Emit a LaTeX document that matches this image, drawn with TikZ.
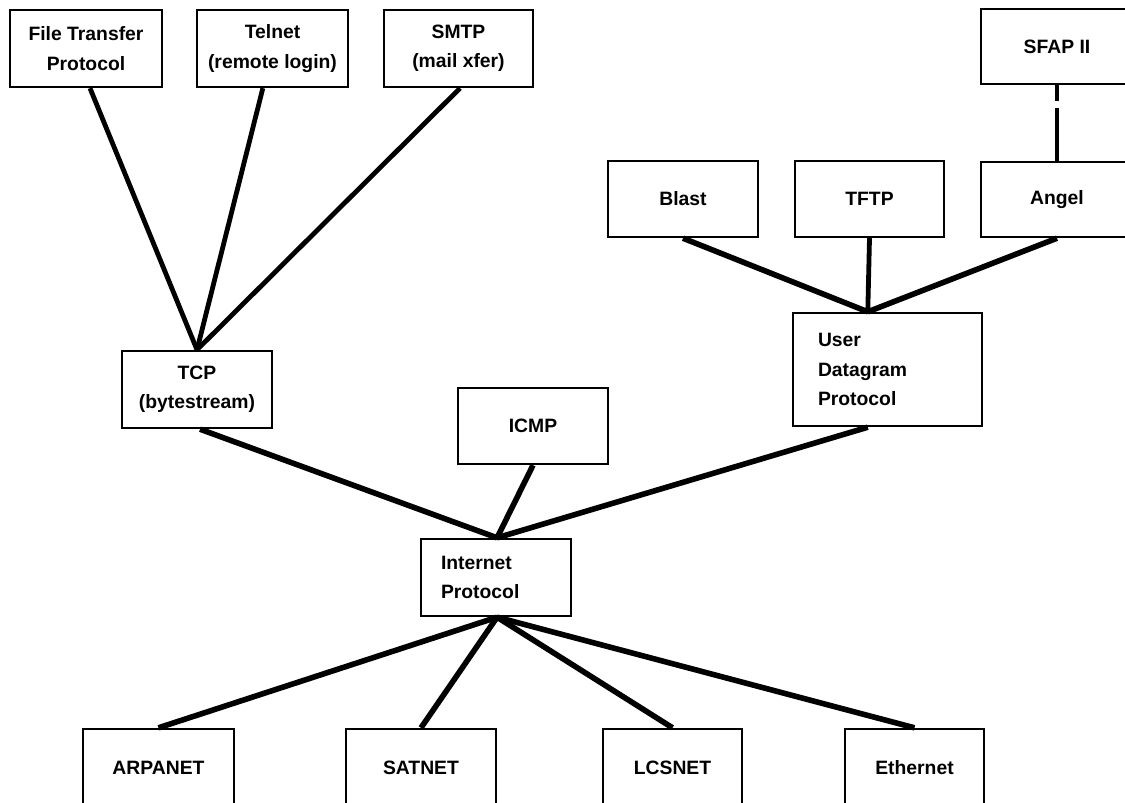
\documentclass[tikz,border=0pt]{standalone}
\usepackage{fontspec}
\setmainfont{Liberation Sans}
\usetikzlibrary{calc}
\tikzset{
  box/.style={draw, line width=1.8pt, inner sep=0pt, align=center,
    font=\fontsize{14.5}{22}\selectfont\bfseries},
  wbox/.style={box, minimum width=112.5pt, minimum height=57.75pt},
  leftbox/.style={box, align=left},
  link/.style={line width=4.2pt},
  thinlink/.style={line width=3.6pt},
  dashlink/.style={line width=2.4pt, dash pattern=on 12pt off 5pt on 60pt off 0pt}
}
\begin{document}
\begin{tikzpicture}[x=0.75pt,y=-0.75pt]
\useasboundingbox (0,0) rectangle (1125,803);
% top row (TCP clients)
\node[box, minimum width=114pt, minimum height=57.75pt] (ftp) at (86,48.5) {File Transfer\\Protocol};
\node[box, minimum width=113.25pt, minimum height=57.75pt] (telnet) at (272.5,48.5) {Telnet\\(remote login)};
\node[box, minimum width=111.75pt, minimum height=57.75pt] (smtp) at (458.5,48.5) {SMTP\\(mail xfer)};
% UDP clients
\node[box, minimum width=114pt, minimum height=56.25pt] (sfap) at (1057,46.5) {SFAP II};
\node[box, minimum width=112.5pt, minimum height=57pt] (blast) at (683,199) {Blast};
\node[box, minimum width=111.75pt, minimum height=57pt] (tftp) at (869.5,199) {TFTP};
\node[box, minimum width=114pt, minimum height=56.25pt] (angel) at (1057,199.5) {Angel};
% middle
\node[wbox] (tcp) at (197,389.5) {TCP\\(bytestream)};
\node[box, minimum width=112.5pt, minimum height=57pt] (icmp) at (533,426) {ICMP};
\node[leftbox, text width=104.25pt, inner xsep=18.75pt, minimum height=84.75pt] (udp) at (887.5,369.5) {User\\Datagram\\Protocol};
\node[leftbox, text width=82.5pt, inner xsep=15pt, minimum height=57.75pt] (ip) at (496,577.5) {Internet\\Protocol};
% networks
\node[box, minimum width=113.25pt, minimum height=57.75pt] (arpanet) at (158.5,767.5) {ARPANET};
\node[wbox] (satnet) at (421,767.5) {SATNET};
\node[box, minimum width=104.25pt, minimum height=57.75pt] (lcsnet) at (672.5,767.5) {LCSNET};
\node[box, minimum width=104.25pt, minimum height=57.75pt] (ether) at (914.5,767.5) {Ethernet};
% attachment points
\coordinate (ftpb) at ($(ftp.south west)!0.526!(ftp.south east)$);
\coordinate (telb) at ($(telnet.south west)!0.437!(telnet.south east)$);
\coordinate (smtpb) at ($(smtp.south west)!0.51!(smtp.south east)$);
\coordinate (tcpb) at ($(tcp.south west)!0.52!(tcp.south east)$);
\coordinate (udpt) at ($(udp.north west)!0.397!(udp.north east)$);
\coordinate (udpb) at ($(udp.south west)!0.397!(udp.south east)$);
\coordinate (ipt) at ($(ip.north west)!0.507!(ip.north east)$);
\coordinate (ipb) at ($(ip.south west)!0.507!(ip.south east)$);
% connectors
\draw[thinlink] (ftpb) -- (tcp.north);
\draw[thinlink] (telb) -- (tcp.north);
\draw[thinlink] (smtpb) -- (tcp.north);
\draw[link] (blast.south) -- (udpt);
\draw[thinlink] (tftp.south) -- (udpt);
\draw[link] (angel.south) -- (udpt);
\draw[dashlink] (sfap.south) -- (angel.north);
\draw[link] (tcpb) -- (ipt);
\draw[link] (icmp.south) -- (ipt);
\draw[link] (udpb) -- (ipt);
\draw[link] (ipb) -- (arpanet.north);
\draw[link] (ipb) -- (satnet.north);
\draw[link] (ipb) -- (lcsnet.north);
\draw[link] (ipb) -- (ether.north);
\end{tikzpicture}
\end{document}
